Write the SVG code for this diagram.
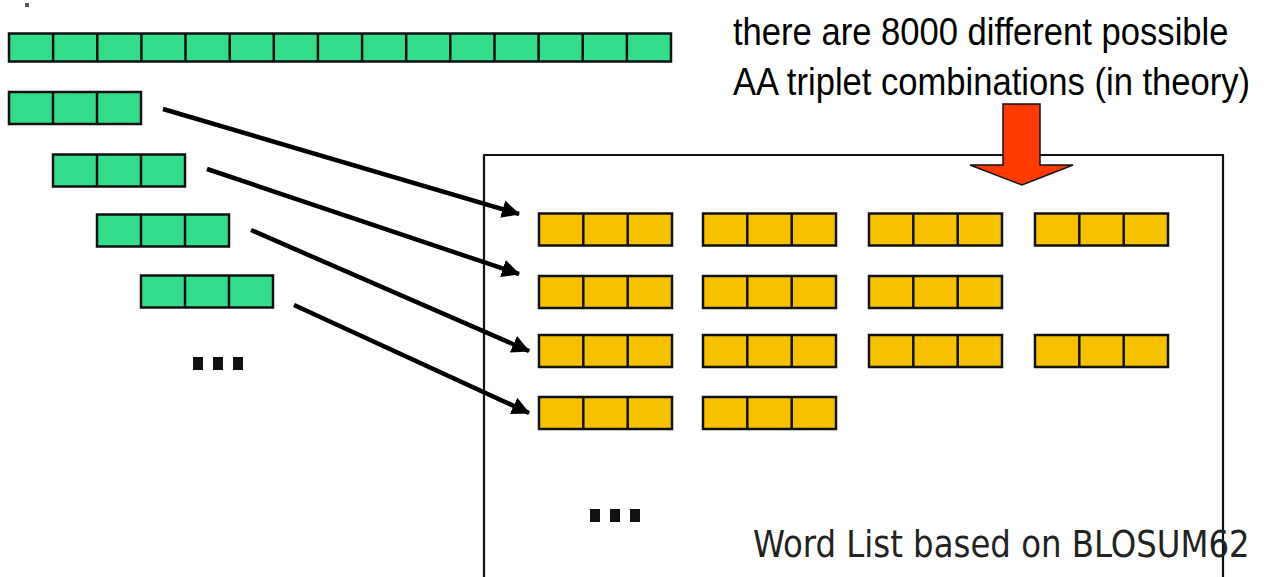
<svg xmlns="http://www.w3.org/2000/svg" xmlns:xlink="http://www.w3.org/1999/xlink" width="1268" height="577" viewBox="0 0 1268 577">
<style>
.g{fill:#33DD8C;stroke:#111;stroke-width:2.5}
.y{fill:#F6C200;stroke:#111;stroke-width:2.5}
.div{stroke:#111;stroke-width:2.5}
.conn{stroke:#000;stroke-width:4.5;fill:none;marker-end:url(#ah)}
.t1{font-family:"Liberation Sans",Arial,sans-serif;font-size:34.6px;fill:#000}
.t2{font-family:"DejaVu Sans Condensed","DejaVu Sans",sans-serif;font-size:36px;fill:#222}
.dot{fill:#111}
</style>
<defs>
<marker id="ah" markerUnits="userSpaceOnUse" markerWidth="22" markerHeight="20" refX="17" refY="9" orient="auto">
<path d="M0,0 L18,9 L0,18 z" fill="#000"/>
</marker>
<g id="gt">
<rect class="g" x="0" y="0" width="132" height="32"/>
<line class="div" x1="44" y1="0" x2="44" y2="32"/>
<line class="div" x1="88" y1="0" x2="88" y2="32"/>
</g>
<g id="yt">
<rect class="y" x="0" y="0" width="133" height="32"/>
<line class="div" x1="44.3" y1="0" x2="44.3" y2="32"/>
<line class="div" x1="88.7" y1="0" x2="88.7" y2="32"/>
</g>
</defs>
<rect width="1268" height="577" fill="#fff"/>
<rect x="25" y="3" width="4" height="4" fill="#555"/>
<g id="sequence">
<rect class="g" x="9" y="33.5" width="662" height="28"/>
<path class="div" d="M53.1,33.5V61.5M97.3,33.5V61.5M141.4,33.5V61.5M185.5,33.5V61.5M229.7,33.5V61.5M273.8,33.5V61.5M317.9,33.5V61.5M362.1,33.5V61.5M406.2,33.5V61.5M450.3,33.5V61.5M494.5,33.5V61.5M538.6,33.5V61.5M582.7,33.5V61.5M626.9,33.5V61.5"/>
</g>
<g id="query-word-1"><use xlink:href="#gt" x="9" y="92"/></g>
<g id="query-word-2"><use xlink:href="#gt" x="53" y="154.5"/></g>
<g id="query-word-3"><use xlink:href="#gt" x="97" y="214.5"/></g>
<g id="query-word-4"><use xlink:href="#gt" x="141" y="275.5"/></g>
<g id="query-more">
<rect class="dot" x="193" y="357" width="10" height="13"/>
<rect class="dot" x="213" y="357" width="10" height="13"/>
<rect class="dot" x="233" y="357" width="10" height="13"/>
</g>
<g id="word-list">
<path d="M484,577V155H1223V577" fill="none" stroke="#111" stroke-width="2.2"/>
<use xlink:href="#yt" x="539" y="213.5"/>
<use xlink:href="#yt" x="703" y="213.5"/>
<use xlink:href="#yt" x="869" y="213.5"/>
<use xlink:href="#yt" x="1035" y="213.5"/>
<use xlink:href="#yt" x="539" y="276"/>
<use xlink:href="#yt" x="703" y="276"/>
<use xlink:href="#yt" x="869" y="276"/>
<use xlink:href="#yt" x="539" y="335"/>
<use xlink:href="#yt" x="703" y="335"/>
<use xlink:href="#yt" x="869" y="335"/>
<use xlink:href="#yt" x="1035" y="335"/>
<use xlink:href="#yt" x="539" y="397"/>
<use xlink:href="#yt" x="703" y="397"/>
<rect class="dot" x="590" y="509" width="10" height="13"/>
<rect class="dot" x="610" y="509" width="10" height="13"/>
<rect class="dot" x="630" y="509" width="10" height="13"/>
<text class="t2" x="753" y="528" transform="scale(1,1.055)">Word List based on BLOSUM62</text>
</g>
<g id="connectors">
<line class="conn" x1="163" y1="109" x2="519" y2="214"/>
<line class="conn" x1="207" y1="169" x2="519" y2="274"/>
<line class="conn" x1="251" y1="230" x2="529" y2="351"/>
<line class="conn" x1="294" y1="305" x2="529" y2="413"/>
</g>
<g id="note">
<g transform="scale(1,1.1)">
<text class="t1" x="733" y="40.9">there are 8000 different possible</text>
<text class="t1" x="733" y="86.4">AA triplet combinations (in theory)</text>
</g>
<path d="M1003,104H1040V165H1073L1022,185L970,165H1003Z" fill="#FF3A00" stroke="#111" stroke-width="1.5"/>
</g>
</svg>
